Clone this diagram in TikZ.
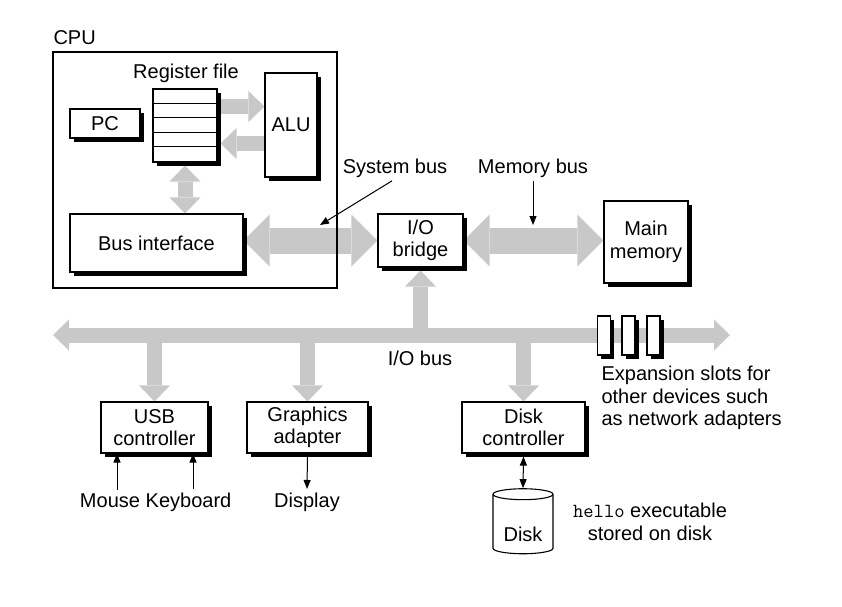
\documentclass[tikz,border=0pt]{standalone}
\usepackage{fontspec}
\setmainfont{Liberation Sans}
\usepackage{tikz}
\usetikzlibrary{arrows.meta,shapes.geometric,shadows,backgrounds}
\definecolor{busgray}{RGB}{200,200,200}

\begin{document}
\begin{tikzpicture}
[x=1pt,y=-1pt,font=\fontsize{20}{22.5}\selectfont,
 box/.style={draw,fill=white,line width=1.1pt,align=center,inner sep=2pt,
   drop shadow={shadow xshift=3.5pt,shadow yshift=-3.5pt,fill=black,opacity=1}},
 fat/.style={draw=busgray,line width=15pt,>={Triangle[width=31pt,length=16pt,line width=0pt]}},
 wide/.style={draw=busgray,line width=26pt,>={Triangle[width=52pt,length=26pt,line width=0pt]}},
 ptr/.style={line width=1pt,>={Triangle[width=7pt,length=9pt]}}]
\useasboundingbox (0,0) rectangle (842,606);
%% CPU
\node[box,minimum width=70pt,minimum height=29pt] (pc) at (105,123.5) {PC};
\node[box,minimum width=64pt,minimum height=73pt,inner sep=0pt] (regs) at (185,125.5) {};
\foreach \r in {1,...,4}
	\draw[line width=0.8pt] (regs.north west) ++(0,14.6*\r) -- ++(64,0);
\node (regslabel) at (186,73) {Register file};
\node[box,minimum width=52pt,minimum height=104pt] (alu) at (291,125) {ALU};
\node[box,minimum width=173pt,minimum height=58pt] (busif) at (156.5,243) {Bus interface};
%% bridge, memory
\node[box,minimum width=85pt,minimum height=53pt] (bridge) at (420.5,240.5) {I/O\\bridge};
\node[box,minimum width=84pt,minimum height=82pt] (mem) at (646,242) {Main\\memory};
%% devices
\node[box,minimum width=107pt,minimum height=51pt] (usb) at (154.5,427.5) {USB\\controller};
\node[box,minimum width=121pt,minimum height=51pt] (gfx) at (307.5,427.5) {Graphics\\adapter};
\node[box,minimum width=123pt,minimum height=51pt] (diskctl) at (523.5,427.5) {Disk\\controller};
\foreach \x/\n in {604/1,628.5/2,653.5/3}
	\node[box,minimum width=13pt,minimum height=39pt,inner sep=0pt] (slot\n) at (\x,335.5) {};
\node[draw,fill=white,line width=1.1pt,cylinder,shape border rotate=90,aspect=0.24,
	minimum width=60pt,minimum height=65pt,text height=32pt] (disk) at (523,525.5) {Disk};
\coordinate (busL) at (53,335);
\coordinate (busR) at (730,335);
%% buses
\begin{scope}[on background layer]
\draw[fat,<->] (busL) -- (busR);
\draw[fat,->] (bridge.south |- busL) -- ([yshift=-3pt]bridge.south);
\foreach \dev in {usb,gfx,diskctl}
	\draw[fat,->] (\dev.north |- busL) -- (\dev.north);
\draw[fat,->] ([yshift=19pt]regs.east) -- ([yshift=19pt]regs.east -| alu.west);
\draw[fat,<-] ([xshift=3pt,yshift=-18pt]regs.east) -- ([yshift=-18pt]regs.east -| alu.west);
\draw[fat,<->] ([yshift=-3pt]regs.south) -- (regs.south |- busif.north);
\draw[wide,<->] (bridge.west -| busif.east) -- (bridge.west);
\draw[wide,<->] (bridge.east) -- (bridge.east -| mem.west);
\end{scope}
\node[draw,line width=1.6pt,minimum width=284pt,minimum height=236pt] (cpu) at (195,170) {};
\node[anchor=west] (cpulabel) at (50,38) {CPU};
%% labels
\node (sysbus) at (395,168) {System bus};
\coordinate (sbtip) at (320,225);
\draw[ptr,->] ([xshift=-3pt]sysbus.south) -- (sbtip);
\node (membus) at (533,168) {Memory bus};
\coordinate (mbtip) at (533,225);
\draw[ptr,->] (membus.south) -- (mbtip);
\node (iobus) at (420,358) {I/O bus};
\node[anchor=west,align=left] (slotstext) at (598,398) {Expansion slots for\\other devices such\\as network adapters};
\node[anchor=base] (mouse) at (110,507) {Mouse};
\node[anchor=base] (kbd) at (188.5,507) {Keyboard};
\node[anchor=base] (display) at (307,507) {Display};
\node[align=center] (hello) at (650,522) {\texttt{hello} executable\\stored on disk};
\draw[ptr,->] ([xshift=7pt]mouse.north) -- ([xshift=7pt]mouse.north |- usb.south);
\draw[ptr,->] ([xshift=4.5pt]kbd.north) -- ([xshift=4.5pt]kbd.north |- usb.south);
\draw[ptr,->] (gfx.south) -- (display.north);
\draw[ptr,<->] ([yshift=-3pt]diskctl.south) -- (disk.north);
\end{tikzpicture}
\end{document}
